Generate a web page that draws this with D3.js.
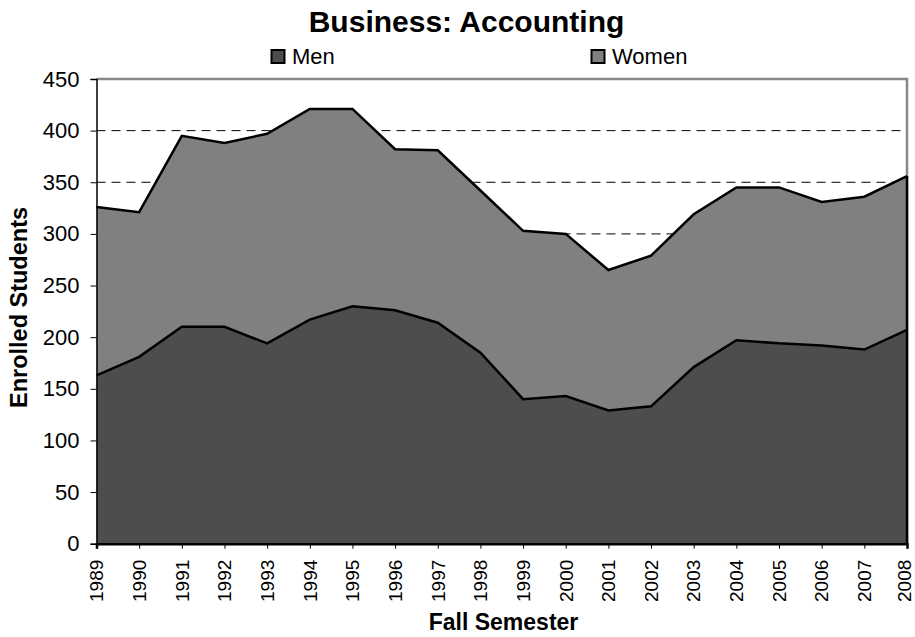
<!DOCTYPE html>
<html><head><meta charset="utf-8">
<script src="https://cdn.jsdelivr.net/npm/d3@7"></script>
<style>body{margin:0;background:#fff}svg{display:block;font-family:Arial,"Liberation Sans",sans-serif}</style>
</head><body><svg id="c" width="915" height="637"></svg>
<script>
const years = ["1989","1990","1991","1992","1993","1994","1995","1996","1997","1998","1999","2000","2001","2002","2003","2004","2005","2006","2007","2008"];
const men   = [163,181,210,210,194,217,230,226,214,185,140,143,129,133,171,197,194,192,188,207];
const women = [163,140,185,178,203,204,191,156,167,157,163,157,136,146,148,148,151,139,148,149];
const yTicks = [0,50,100,150,200,250,300,350,400,450];
const seriesNames = ["Men","Women"];
const colors = ["#4d4d4d","#808080"];

const FONT = "Arial, 'Liberation Sans', sans-serif";
const svg = d3.select("#c");
const m = {l:96.5, r:907, t:79, b:543.7};
const x = d3.scalePoint().domain(years).range([m.l, m.r]);
const y = d3.scaleLinear().domain([0,450]).range([m.b, m.t]);

const rows = years.map((yr,i)=>({year:yr, Men:men[i], Women:women[i]}));
const stacked = d3.stack().keys(seriesNames)(rows);

// gridlines
svg.append("g").selectAll("line").data(yTicks.filter(t=>t>0&&t<450)).join("line")
  .attr("x1",m.l).attr("x2",m.r).attr("y1",d=>y(d)).attr("y2",d=>y(d))
  .attr("stroke","#000").attr("stroke-width",1).attr("stroke-dasharray","9,6");

// plot border (top & right gray)
svg.append("path").attr("d",`M${m.l},${y(450)}H${m.r}V${m.b}`)
  .attr("fill","none").attr("stroke","#888").attr("stroke-width",2.5);

const area = d3.area().x(d=>x(d.data.year)).y0(d=>y(d[0])).y1(d=>y(d[1]));
const line = d3.line().x(d=>x(d.data.year)).y(d=>y(d[1]));
svg.append("g").selectAll("path").data(stacked).join("path")
  .attr("d",area).attr("fill",(d,i)=>colors[i]);
svg.append("g").selectAll("path").data(stacked).join("path")
  .attr("d",line).attr("fill","none").attr("stroke","#000").attr("stroke-width",2.5).attr("stroke-linejoin","miter");
// right edge line
svg.append("line").attr("x1",m.r).attr("x2",m.r).attr("y1",y(stacked[1][years.length-1][1])).attr("y2",m.b)
  .attr("stroke","#000").attr("stroke-width",2.5);

// y axis
const ya = svg.append("g").attr("transform",`translate(${m.l},0)`)
  .call(d3.axisLeft(y).tickValues(yTicks).tickSize(6).tickPadding(11).tickFormat(d3.format("d")));
ya.select(".domain").attr("stroke","#000").attr("stroke-width",1.5);
ya.selectAll(".tick line").attr("stroke","#000");
ya.selectAll("text").attr("font-size",22).attr("fill","#000").attr("font-family",FONT);

// x axis
const xa = svg.append("g").attr("transform",`translate(0,${m.b})`)
  .call(d3.axisBottom(x).tickSize(5).tickPadding(0));
xa.select(".domain").attr("stroke","#000").attr("stroke-width",2.5);
xa.selectAll(".tick line").attr("stroke","#000");
xa.selectAll("text").attr("font-size",19).attr("fill","#000").attr("font-family",FONT)
  .attr("transform","rotate(-90)").attr("text-anchor","end")
  .attr("dy",(d,i)=> i===years.length-1 ? "0.18em" : "0.33em").attr("x",-16).attr("y",0);

// titles
svg.append("text").attr("x",466.5).attr("y",32).attr("text-anchor","middle")
  .attr("font-size",30).attr("font-weight","bold").text("Business: Accounting");
svg.append("text").attr("x",503.5).attr("y",630).attr("text-anchor","middle")
  .attr("font-size",23).attr("font-weight","bold").text("Fall Semester");
svg.append("text").attr("transform","translate(27,307.5) rotate(-90)").attr("text-anchor","middle")
  .attr("font-size",23.5).attr("font-weight","bold").text("Enrolled Students");

// legend
const legX = [271.5, 591.5];
const lg = svg.append("g").selectAll("g").data(seriesNames).join("g")
  .attr("transform",(d,i)=>`translate(${legX[i]},50)`);
lg.append("rect").attr("width",13).attr("height",13).attr("fill",(d,i)=>colors[i]).attr("stroke","#000").attr("stroke-width",2);
lg.append("text").attr("x",20.5).attr("y",13.5).attr("font-size",22).text(d=>d);
</script></body></html>
